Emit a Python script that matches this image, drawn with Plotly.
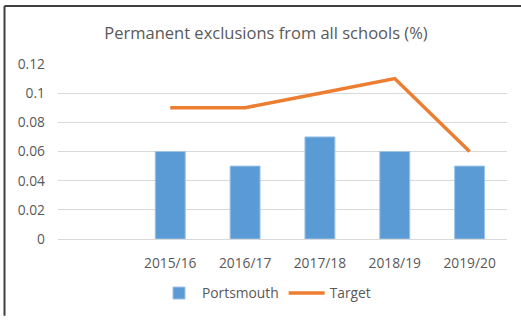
import plotly.graph_objects as go

# Chart data
categories = [" ", "2015/16", "2016/17", "2017/18", "2018/19", "2019/20"]
portsmouth = [None, 0.06, 0.05, 0.07, 0.06, 0.05]
target = [None, 0.09, 0.09, 0.10, 0.11, 0.06]
y_ticks = [0, 0.02, 0.04, 0.06, 0.08, 0.1, 0.12]
y_tick_text = ["0", "0.02", "0.04", "0.06", "0.08", "0.1", "0.12"]

FONT = "Open Sans, Liberation Sans, sans-serif"
TEXT = "#595959"

fig = go.Figure()
fig.add_trace(go.Bar(
    x=categories, y=portsmouth, name="Portsmouth",
    marker=dict(color="#5B9BD5", line=dict(color="#9DC3E6", width=1)),
    width=0.4,
))
fig.add_trace(go.Scatter(
    x=categories, y=target, name="Target", mode="lines",
    line=dict(color="#ED7D31", width=3.5),
))

W, H = 521, 320
L, R, T, B = 58, 14, 64, 78
pw, ph = W - L - R, H - T - B

def px(x):
    return (x - L) / pw

def py(y):
    return (H - B - y) / ph

fig.update_layout(
    width=W, height=H,
    margin=dict(l=L, r=R, t=T, b=B),
    paper_bgcolor="white", plot_bgcolor="white",
    font=dict(family=FONT, color=TEXT, size=13.8),
    title=dict(
        text="Permanent exclusions from all schools (%)",
        x=px(266), xref="paper", xanchor="center",
        y=1 - 33 / H, yref="container", yanchor="middle",
        font=dict(size=16.5, color=TEXT, family=FONT),
    ),
    bargap=0.6,
    showlegend=True,
    legend=dict(
        orientation="h", x=px(266), xanchor="center",
        y=py(297), yanchor="middle",
        font=dict(size=13.8, color=TEXT), itemwidth=36,
        bgcolor="rgba(0,0,0,0)",
    ),
    xaxis=dict(
        type="category", categoryorder="array", categoryarray=categories,
        showgrid=False, showline=True, linecolor="#D9D9D9", linewidth=1,
        ticks="", ticklabelstandoff=11, tickfont=dict(size=13.8, color=TEXT),
    ),
    yaxis=dict(
        range=[0, 0.12], tickvals=y_ticks, ticktext=y_tick_text,
        showgrid=True, gridcolor="#D9D9D9", gridwidth=1,
        zeroline=False, showline=False, ticks="",
        ticklabelstandoff=12, tickfont=dict(size=13.8, color=TEXT),
    ),
    shapes=[
        dict(type="line", xref="paper", yref="paper",
             x0=px(4.5), x1=px(521), y0=py(5), y1=py(5),
             line=dict(color="#404040", width=2)),
        dict(type="line", xref="paper", yref="paper",
             x0=px(4.5), x1=px(4.5), y0=py(5), y1=py(320),
             line=dict(color="#404040", width=2)),
    ],
)

fig.write_html("out.html")
